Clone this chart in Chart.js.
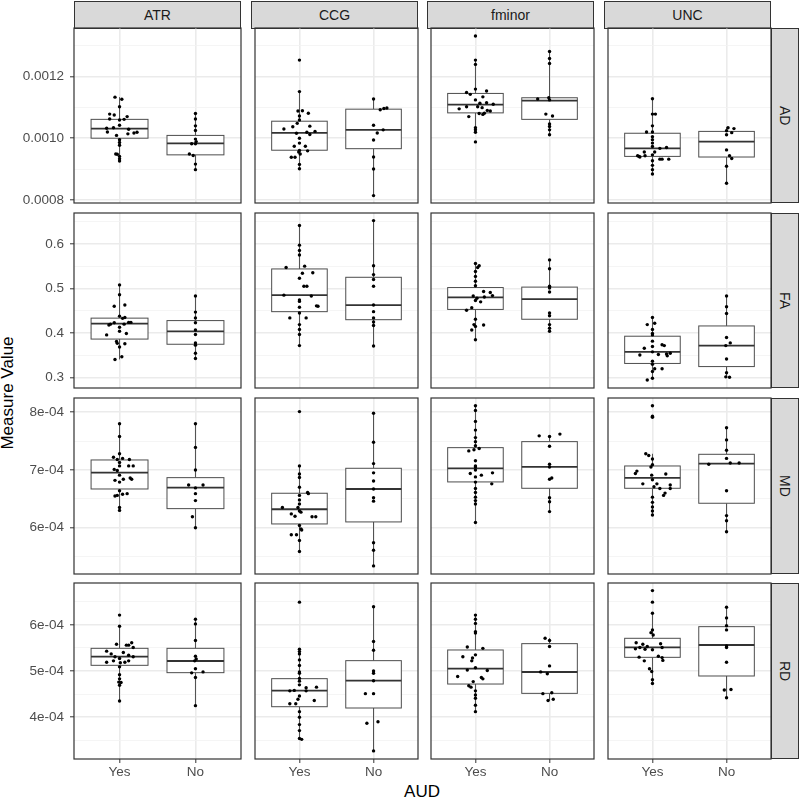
<!DOCTYPE html>
<html>
<head>
<meta charset="utf-8">
<script src="https://cdn.jsdelivr.net/npm/chart.js@4.4.0/dist/chart.umd.min.js"></script>
<style>
  body { margin: 0; background: #fff; }
  #page { position: relative; width: 800px; height: 799px; overflow: hidden; font-family: "Liberation Sans", Arial, sans-serif; }
  .panel { position: absolute; }
  .strip { position: absolute; box-sizing: border-box; background: #d9d9d9; border: 1px solid #333; color: #1a1a1a;
           font-size: 14px; display: flex; align-items: center; justify-content: center; }
  .strip.right span { writing-mode: vertical-rl; }
  .title { position: absolute; font-size: 17px; color: #000; text-align: center; line-height: 20px; }
</style>
</head>
<body>
<div id="page"></div>
<script>
// facets
const tracts = ['ATR', 'CCG', 'fminor', 'UNC'];
const measures = ['AD', 'FA', 'MD', 'RD'];
const groups = ['Yes', 'No'];

// y axis per measure (AD, MD and RD values are in units of 1e-4)
const yRange = [[7.9, 13.57], [0.277, 0.669], [5.2, 8.245], [3.095, 6.905]];
const tickValues = [[8, 10, 12], [0.3, 0.4, 0.5, 0.6], [6, 7, 8], [4, 5, 6]];
const tickLabels = [['0.0008', '0.0010', '0.0012'], ['0.3', '0.4', '0.5', '0.6'], ['6e-04', '7e-04', '8e-04'], ['4e-04', '5e-04', '6e-04']];
const minorValues = [[9, 11, 13], [0.35, 0.45, 0.55, 0.65], [5.5, 6.5, 7.5], [3.5, 4.5, 5.5, 6.5]];

// box stats per tract: [Yes, No], each [lower whisker, q1, median, q3, upper whisker]
const AD_box = [
    [[9.26, 10.0, 10.31, 10.61, 11.33], [8.98, 9.46, 9.83, 10.09, 10.80]],
    [[9.01, 9.61, 10.17, 10.55, 11.51], [8.14, 9.66, 10.27, 10.94, 11.27]],
    [[10.18, 10.82, 11.09, 11.45, 12.53], [10.11, 10.61, 11.22, 11.31, 12.81]],
    [[8.84, 9.41, 9.67, 10.16, 11.28], [8.54, 9.39, 9.89, 10.22, 10.35]]
];
const FA_box = [
    [[0.341, 0.3866, 0.421, 0.4335, 0.508], [0.343, 0.375, 0.404, 0.428, 0.483]],
    [[0.372, 0.448, 0.485, 0.5437, 0.641], [0.371, 0.430, 0.4625, 0.525, 0.652]],
    [[0.385, 0.453, 0.480, 0.502, 0.556], [0.404, 0.431, 0.476, 0.503, 0.564]],
    [[0.299, 0.332, 0.358, 0.393, 0.435], [0.301, 0.325, 0.372, 0.416, 0.483]]
];
const MD_box = [
    [[6.30, 6.671, 6.954, 7.173, 7.80], [6.0, 6.331, 6.695, 6.867, 7.80]],
    [[5.59, 6.066, 6.320, 6.597, 7.07], [5.34, 6.101, 6.671, 7.029, 7.98]],
    [[6.09, 6.793, 7.029, 7.386, 8.11], [6.28, 6.683, 7.052, 7.49, 7.59]],
    [[6.22, 6.683, 6.862, 7.069, 7.28], [5.93, 6.424, 7.11, 7.271, 7.73]]
];
const RD_box = [
    [[4.35, 5.123, 5.31, 5.491, 5.97], [4.25, 4.964, 5.217, 5.491, 6.12]],
    [[3.52, 4.227, 4.574, 4.834, 5.47], [3.27, 4.199, 4.791, 5.224, 6.39]],
    [[4.12, 4.718, 5.05, 5.455, 6.21], [4.36, 4.516, 4.978, 5.592, 5.71]],
    [[4.73, 5.296, 5.513, 5.708, 6.25], [4.42, 4.892, 5.563, 5.96, 6.38]]
];

// jittered points: [jitter offset, value]
const AD_ATR_Yes = [[-0.06,11.33],[0.03,11.26],[0,11.02],[-0.13,10.78],[-0.07,10.75],[-0.13,10.62],[0,10.59],[0.06,10.61],[0.10,10.70],[0,10.42],[-0.17,10.32],[-0.08,10.34],[0.12,10.29],[-0.16,10.20],[-0.04,10.09],[0.19,10.17],[0.23,10.19],[0.11,10.14],[0,9.95],[0,9.86],[0,9.77],[-0.05,9.49],[-0.03,9.48],[0,9.41],[0,9.33],[0,9.26]];
const AD_ATR_No = [[0,10.80],[0,10.62],[0,10.40],[0,10.25],[0,9.97],[0.01,9.89],[-0.05,9.82],[0,9.82],[-0.08,9.49],[-0.03,9.44],[0,9.16],[0,8.98]];
const AD_CCG_Yes = [[0,12.53],[0,11.51],[-0.02,10.88],[0.04,10.89],[0.12,10.81],[0,10.72],[0,10.59],[-0.03,10.48],[-0.09,10.37],[0.14,10.39],[-0.21,10.30],[0.21,10.22],[-0.04,10.16],[0.10,10.19],[0.14,10.12],[0,10.0],[0,9.84],[-0.07,9.74],[0.08,9.74],[0,9.60],[0.11,9.59],[-0.01,9.55],[0.01,9.49],[-0.11,9.38],[-0.06,9.38],[0,9.15],[0,9.01]];
const AD_CCG_No = [[0,11.27],[0.09,10.92],[0.14,10.96],[0.18,10.98],[0,10.42],[0.13,10.27],[0.05,10.17],[0,9.94],[0,9.39],[0,9.0],[0,8.14]];
const AD_fminor_Yes = [[0,13.31],[0,12.53],[0,12.39],[0,11.59],[-0.12,11.48],[-0.07,11.42],[0.15,11.53],[0.10,11.34],[0,11.24],[0.15,11.15],[0.06,11.13],[0.24,11.10],[-0.22,10.95],[-0.12,11.02],[0.09,10.99],[0.03,11.02],[0.16,10.90],[0.20,10.88],[0.05,10.80],[0.10,10.77],[0.12,10.81],[-0.09,10.70],[0,10.34],[0,10.27],[0,10.19],[0,9.88]];
const AD_fminor_No = [[0,12.81],[0,12.58],[0,12.42],[-0.16,11.27],[-0.01,11.31],[0,11.24],[-0.05,10.78],[0.04,10.72],[0,10.46],[0,10.38],[0,10.27],[0,10.11]];
const AD_UNC_Yes = [[0,11.28],[0,10.78],[0.04,10.78],[0,10.40],[-0.08,10.20],[0,10.20],[0,10.05],[0,9.95],[0,9.84],[0,9.73],[0.10,9.67],[0.19,9.70],[0.03,9.55],[-0.11,9.55],[0,9.46],[-0.20,9.43],[-0.18,9.41],[-0.17,9.39],[-0.10,9.43],[0.10,9.32],[0.13,9.32],[0.22,9.32],[0,9.27],[0,9.12],[0,8.98],[0,8.84]];
const AD_UNC_No = [[0.02,10.34],[0.10,10.31],[0,10.24],[0.07,10.18],[0,10.11],[0,9.62],[0.04,9.43],[0.07,9.34],[0,9.09],[0,8.54]];

const FA_ATR_Yes = [[0,0.508],[0,0.486],[-0.07,0.460],[0.07,0.463],[0,0.438],[0.04,0.433],[0.07,0.435],[-0.07,0.423],[-0.12,0.420],[-0.14,0.418],[0.06,0.420],[0.12,0.424],[0.15,0.424],[0,0.413],[0,0.404],[-0.17,0.396],[0.09,0.399],[-0.04,0.381],[-0.03,0.377],[0.07,0.376],[0,0.369],[0.03,0.347],[-0.06,0.341]];
const FA_ATR_No = [[0,0.483],[0,0.447],[0,0.434],[0,0.423],[0,0.407],[0,0.397],[0,0.378],[0,0.373],[0,0.355],[0,0.343]];
const FA_CCG_Yes = [[0,0.641],[0,0.597],[0,0.585],[0,0.575],[0.07,0.550],[-0.18,0.547],[0.04,0.534],[0.18,0.535],[0,0.523],[0.06,0.505],[0.10,0.505],[-0.21,0.485],[0.16,0.483],[0,0.474],[0,0.471],[0,0.458],[0.23,0.461],[0.25,0.460],[0,0.445],[-0.13,0.434],[0.09,0.434],[0,0.419],[0,0.408],[0,0.397],[0,0.372]];
const FA_CCG_No = [[0,0.652],[0,0.551],[0,0.531],[0,0.520],[0,0.505],[0,0.463],[0,0.448],[0,0.434],[0,0.425],[0,0.417],[0,0.371]];
const FA_fminor_Yes = [[0,0.556],[0.05,0.551],[0.03,0.547],[0,0.538],[0,0.527],[0,0.516],[0,0.506],[0.11,0.493],[0.20,0.491],[0.23,0.484],[-0.03,0.483],[0.12,0.481],[0.02,0.478],[0,0.473],[0.07,0.470],[-0.05,0.457],[-0.12,0.451],[0,0.431],[-0.02,0.419],[0,0.415],[0.11,0.418],[-0.05,0.407],[0,0.385]];
const FA_fminor_No = [[0,0.564],[0,0.544],[0,0.505],[0,0.501],[0,0.492],[0,0.445],[0,0.439],[0,0.419],[0,0.411],[0,0.404]];
const FA_UNC_Yes = [[0,0.435],[-0.07,0.419],[0.03,0.422],[0,0.408],[0,0.399],[0,0.396],[0,0.382],[0.13,0.374],[0.16,0.372],[-0.11,0.366],[0,0.370],[-0.17,0.351],[0.08,0.352],[0.19,0.353],[0.20,0.349],[0.24,0.355],[0,0.358],[0,0.337],[0,0.330],[0.03,0.320],[0.13,0.320],[0,0.314],[0,0.299],[-0.07,0.295]];
const FA_UNC_No = [[0,0.483],[0,0.459],[0,0.444],[0,0.390],[0.05,0.378],[-0.01,0.372],[0,0.342],[0,0.311],[0.04,0.301],[-0.01,0.302]];

const MD_ATR_Yes = [[0,7.80],[0,7.58],[0,7.28],[-0.08,7.22],[0.04,7.20],[-0.03,7.18],[0.13,7.18],[0,7.13],[0,7.07],[0.12,7.07],[0.18,7.07],[-0.07,7.01],[-0.03,6.99],[0,6.91],[0.14,6.86],[0.16,6.84],[-0.06,6.82],[0,6.79],[0.05,6.84],[0,6.64],[-0.06,6.55],[-0.03,6.56],[0.04,6.58],[0.10,6.59],[0,6.35],[0,6.30]];
const MD_ATR_No = [[0,7.80],[0,7.39],[0,7.0],[-0.09,6.74],[0.10,6.74],[0,6.69],[0,6.59],[0,6.47],[-0.04,6.19],[0,6.0]];
const MD_CCG_Yes = [[0,8.01],[0,7.07],[0,6.93],[0,6.87],[0,6.70],[0.11,6.61],[0.12,6.59],[0,6.56],[0,6.48],[0,6.41],[-0.23,6.35],[-0.02,6.35],[0,6.29],[0.02,6.27],[-0.11,6.24],[-0.06,6.20],[0.17,6.19],[0.22,6.19],[0,6.04],[0.02,5.98],[0.03,5.96],[-0.11,5.88],[-0.04,5.88],[0,5.78],[0,5.59]];
const MD_CCG_No = [[0,7.98],[0,7.48],[0,7.11],[0,6.95],[0,6.81],[0,6.67],[0,6.52],[0,6.46],[0,5.74],[0,5.61],[0,5.34]];
const MD_fminor_Yes = [[0,8.11],[0,8.03],[0,7.84],[0,7.69],[0,7.56],[0,7.49],[0,7.42],[0.05,7.37],[-0.02,7.35],[-0.09,7.33],[0,7.16],[0,7.07],[0,7.05],[0,7.0],[-0.07,6.94],[0.23,6.95],[0.08,6.91],[0,6.88],[0,6.79],[0.22,6.76],[0,6.68],[0,6.61],[0,6.53],[0,6.47],[0,6.41],[0,6.09]];
const MD_fminor_No = [[-0.14,7.59],[0,7.58],[0.14,7.62],[0,7.41],[0,7.10],[0,7.05],[0,6.84],[0.03,6.86],[0,6.52],[0,6.45],[0,6.28]];
const MD_UNC_Yes = [[0,8.11],[0,7.93],[0,7.91],[-0.09,7.28],[-0.05,7.25],[0,7.19],[0,7.09],[-0.02,7.05],[-0.21,6.98],[-0.23,6.94],[0.18,6.93],[-0.01,6.91],[0,6.83],[-0.13,6.76],[0.06,6.76],[0.02,6.71],[0.10,6.68],[0.24,6.74],[0.24,6.68],[0.17,6.60],[0.15,6.56],[0,6.53],[0,6.44],[0,6.36],[0,6.29],[0,6.22]];
const MD_UNC_No = [[0,7.73],[0,7.52],[0,7.34],[0,7.20],[0.05,7.12],[0.17,7.12],[-0.24,7.10],[0,6.64],[0,6.21],[0,6.12],[0,5.93]];

const RD_ATR_Yes = [[0,6.21],[0,5.97],[-0.04,5.58],[0.09,5.56],[0.12,5.56],[0.16,5.61],[0.18,5.51],[-0.17,5.43],[-0.11,5.37],[0.05,5.40],[-0.06,5.31],[0.12,5.34],[0.18,5.31],[0,5.27],[-0.17,5.19],[-0.08,5.22],[0.01,5.18],[0.07,5.19],[0.12,5.22],[0,5.09],[0,4.92],[0,4.83],[-0.01,4.76],[0.02,4.75],[0,4.69],[0,4.35]];
const RD_ATR_No = [[0,6.12],[0,6.02],[0,5.66],[0,5.32],[0.01,5.26],[-0.01,5.22],[0,5.05],[-0.05,4.96],[0.10,4.98],[0,4.86],[0,4.25]];
const RD_CCG_Yes = [[0,6.49],[0,5.47],[0,5.42],[0,5.37],[0,5.24],[0,5.12],[0,4.98],[0,4.95],[0,4.84],[0,4.78],[0,4.70],[-0.13,4.57],[-0.07,4.58],[0.09,4.64],[0.09,4.57],[0.23,4.65],[0,4.46],[-0.02,4.39],[0.20,4.36],[-0.13,4.29],[-0.05,4.29],[0,4.12],[0,4.0],[0,3.84],[0,3.71],[0,3.54],[0.03,3.52]];
const RD_CCG_No = [[0,6.39],[0,5.64],[0,5.45],[0,5.0],[0,4.95],[0,4.79],[-0.11,4.51],[0,4.51],[-0.09,3.87],[0.06,3.90],[0,3.27]];
const RD_fminor_Yes = [[0,6.21],[0,6.12],[0,6.03],[0,5.85],[0,5.82],[-0.11,5.52],[0.10,5.49],[-0.17,5.31],[0,5.35],[-0.04,5.28],[-0.05,5.22],[0,5.07],[-0.11,5.02],[0.16,5.01],[-0.24,4.88],[0.08,4.86],[0.10,4.83],[-0.03,4.77],[-0.09,4.68],[-0.06,4.65],[0,4.57],[0,4.48],[0,4.41],[0,4.26],[0,4.12]];
const RD_fminor_No = [[-0.06,5.71],[0,5.66],[0,5.53],[0,5.11],[-0.12,4.98],[-0.03,4.94],[-0.09,4.51],[0.03,4.53],[0.05,4.39],[-0.02,4.36]];
const RD_UNC_Yes = [[0,6.74],[0,6.49],[0,6.25],[0,5.89],[-0.02,5.83],[0.01,5.78],[-0.22,5.61],[-0.13,5.58],[0.11,5.59],[-0.07,5.53],[-0.23,5.48],[-0.17,5.51],[-0.10,5.47],[0.13,5.51],[0,5.46],[-0.18,5.30],[0.08,5.32],[0.13,5.29],[0.14,5.23],[-0.11,5.22],[-0.04,5.05],[-0.01,4.99],[0,4.81],[0,4.73]];
const RD_UNC_No = [[0,6.38],[0,6.15],[0,5.98],[0,5.89],[0,5.54],[0,5.51],[0,5.19],[-0.03,4.59],[0.06,4.60],[0,4.42]];

const boxStats = [AD_box, FA_box, MD_box, RD_box];
const pointSets = [
    [[AD_ATR_Yes, AD_ATR_No], [AD_CCG_Yes, AD_CCG_No], [AD_fminor_Yes, AD_fminor_No], [AD_UNC_Yes, AD_UNC_No]],
    [[FA_ATR_Yes, FA_ATR_No], [FA_CCG_Yes, FA_CCG_No], [FA_fminor_Yes, FA_fminor_No], [FA_UNC_Yes, FA_UNC_No]],
    [[MD_ATR_Yes, MD_ATR_No], [MD_CCG_Yes, MD_CCG_No], [MD_fminor_Yes, MD_fminor_No], [MD_UNC_Yes, MD_UNC_No]],
    [[RD_ATR_Yes, RD_ATR_No], [RD_CCG_Yes, RD_CCG_No], [RD_fminor_Yes, RD_fminor_No], [RD_UNC_Yes, RD_UNC_No]]
];

// page layout
const colLeft = [74, 251, 427, 604];
const panelW = 167;
const rowTop = [28, 213, 398, 583];
const rowH = [175, 175, 176, 176];
const FONT = '"Liberation Sans", Arial, sans-serif';
const page = document.getElementById('page');

function makeBoxPlugin(stats) {
    return {
        id: 'boxplot',
        beforeDatasetsDraw(chart) {
            const { ctx, scales: { x, y } } = chart;
            stats.forEach((s, i) => {
                const [lo, q1, med, q3, hi] = s;
                const cx = x.getPixelForValue(i + 1);
                const xl = x.getPixelForValue(i + 1 - 0.375);
                const xr = x.getPixelForValue(i + 1 + 0.375);
                const top = y.getPixelForValue(q3);
                const bot = y.getPixelForValue(q1);
                ctx.save();
                ctx.strokeStyle = '#4d4d4d';
                ctx.lineWidth = 1;
                ctx.beginPath();
                ctx.moveTo(cx, y.getPixelForValue(hi));
                ctx.lineTo(cx, top);
                ctx.moveTo(cx, bot);
                ctx.lineTo(cx, y.getPixelForValue(lo));
                ctx.stroke();
                ctx.fillStyle = '#fff';
                ctx.fillRect(xl, top, xr - xl, bot - top);
                ctx.strokeRect(xl, top, xr - xl, bot - top);
                ctx.strokeStyle = '#333';
                ctx.lineWidth = 1.8;
                ctx.beginPath();
                ctx.moveTo(xl, y.getPixelForValue(med));
                ctx.lineTo(xr, y.getPixelForValue(med));
                ctx.stroke();
                ctx.restore();
            });
        }
    };
}

const borderPlugin = {
    id: 'panelBorder',
    afterDatasetsDraw(chart) {
        const { ctx, chartArea: a } = chart;
        ctx.save();
        ctx.strokeStyle = '#333';
        ctx.lineWidth = 1.2;
        ctx.strokeRect(a.left, a.top, a.right - a.left, a.bottom - a.top);
        ctx.restore();
    }
};

function addDiv(cls, left, top, width, height, html) {
    const d = document.createElement('div');
    d.className = cls;
    Object.assign(d.style, { left: left + 'px', top: top + 'px', width: width + 'px', height: height + 'px' });
    if (html) d.innerHTML = html;
    page.appendChild(d);
    return d;
}

// strips
tracts.forEach((t, c) => addDiv('strip', colLeft[c], 1, panelW, 28, '<span>' + t + '</span>'));
measures.forEach((m, r) => addDiv('strip right', 771, rowTop[r], 28, rowH[r], '<span>' + m + '</span>'));

// axis titles
addDiv('title', 8 - 100, 393 - 10, 200, 20, 'Measure Value').style.transform = 'rotate(-90deg)';
addDiv('title', 422 - 50, 782, 100, 20, 'AUD');

measures.forEach((m, r) => {
    const majors = tickValues[r];
    const allTicks = majors.concat(minorValues[r]);
    const isMajor = v => majors.some(t => Math.abs(t - v) < 1e-9);

    tracts.forEach((t, c) => {
        const isLeft = c === 0, isBottom = r === 3;
        const padT = 16, padB = isBottom ? 0 : 16, padR = 4;
        const yW = isLeft ? colLeft[0] : 0;
        const xH = isBottom ? 26 : 0;
        const w = yW + panelW + padR;
        const h = padT + rowH[r] + padB + xH;
        const holder = addDiv('panel', isLeft ? 0 : colLeft[c], rowTop[r] - padT, w, h);
        const canvas = document.createElement('canvas');
        canvas.width = w;
        canvas.height = h;
        holder.appendChild(canvas);

        const datasets = groups.map((g, gi) => ({
            label: g,
            data: pointSets[r][c][gi].map(([dx, v]) => ({ x: gi + 1 + dx, y: v })),
            pointRadius: 1.7,
            pointBackgroundColor: '#000',
            pointBorderWidth: 0
        }));

        new Chart(canvas.getContext('2d'), {
            type: 'scatter',
            data: { datasets },
            options: {
                responsive: false,
                animation: false,
                events: [],
                layout: { padding: { top: padT, bottom: padB, left: 0, right: padR } },
                plugins: { legend: { display: false }, tooltip: { enabled: false } },
                scales: {
                    x: {
                        type: 'linear',
                        min: 0.4,
                        max: 2.6,
                        afterBuildTicks: s => { s.ticks = [{ value: 1 }, { value: 2 }]; },
                        afterFit: s => { s.height = xH; },
                        ticks: {
                            display: isBottom,
                            autoSkip: false,
                            maxRotation: 0,
                            padding: 1,
                            color: '#4d4d4d',
                            font: { family: FONT, size: 13.5 },
                            callback: v => groups[Math.round(v) - 1]
                        },
                        grid: { color: '#ebebeb', lineWidth: 1.6, drawTicks: isBottom, tickLength: 4, tickColor: '#333', tickWidth: 1 },
                        border: { display: false }
                    },
                    y: {
                        type: 'linear',
                        min: yRange[r][0],
                        max: yRange[r][1],
                        afterBuildTicks: s => { s.ticks = allTicks.map(v => ({ value: v })); },
                        afterFit: s => { s.width = yW; },
                        ticks: {
                            display: isLeft,
                            autoSkip: false,
                            padding: 6,
                            color: '#4d4d4d',
                            font: { family: FONT, size: 13.5 },
                            callback: v => {
                                const k = majors.findIndex(tv => Math.abs(tv - v) < 1e-9);
                                return k >= 0 ? tickLabels[r][k] : '';
                            }
                        },
                        grid: {
                            color: ctx => (ctx.tick && isMajor(ctx.tick.value)) ? '#ebebeb' : '#f3f3f3',
                            lineWidth: ctx => (ctx.tick && isMajor(ctx.tick.value)) ? 1.6 : 0.8,
                            drawTicks: isLeft,
                            tickLength: 4,
                            tickWidth: 1,
                            tickColor: ctx => (ctx.tick && isMajor(ctx.tick.value)) ? '#333' : 'rgba(0,0,0,0)'
                        },
                        border: { display: false }
                    }
                }
            },
            plugins: [makeBoxPlugin(boxStats[r][c]), borderPlugin]
        });
    });
});
</script>
</body>
</html>
